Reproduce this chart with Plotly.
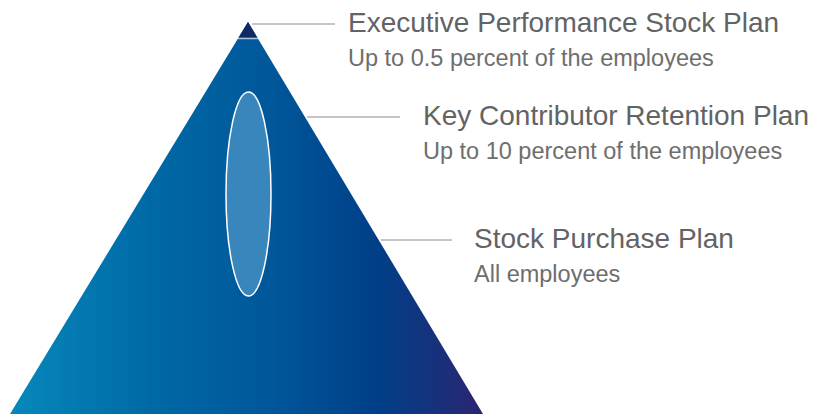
import plotly.graph_objects as go

# Planes de acciones, de la cúspide a la base
PLANES = ["Executive Performance Stock Plan", "Key Contributor Retention Plan", "Stock Purchase Plan"]
ALCANCE = ["Up to 0.5 percent of the employees", "Up to 10 percent of the employees", "All employees"]

# Geometría (unidades de eje = píxeles de la ventana)
W, H = 819, 414
OFF = 8  # margen por defecto del <body>
APEX = (248, 22)
BASE_L, BASE_R = 10, 483
CAP_Y = 37.5
LINEA_Y = [24, 117, 240]
LINEA_FIN = [335, 400, 452]
TEXTO_X = [347, 422, 473]
COLORES = [[0, "#0688bb"], [0.3, "#0069a5"], [0.55, "#00579a"], [0.78, "#003f88"], [1, "#2c2571"]]
GRIS_TITULO, GRIS_SUB = "#636363", "#6e6e6e"
FUENTE = "Liberation Sans, Arial"


def borde_der(y):
    return APEX[0] + (y - APEX[1]) * (BASE_R - APEX[0]) / (H - APEX[1])


def borde_izq(y):
    return APEX[0] - (y - APEX[1]) * (APEX[0] - BASE_L) / (H - APEX[1])


fig = go.Figure()
fig.add_trace(go.Scatter(
    x=[APEX[0], BASE_R, BASE_L, APEX[0]], y=[APEX[1], H, H, APEX[1]],
    mode="lines", fill="toself", line=dict(width=0),
    fillgradient=dict(type="horizontal", colorscale=COLORES),
    hoverinfo="skip", showlegend=False,
))
fig.add_trace(go.Scatter(
    x=[APEX[0], borde_der(CAP_Y), borde_izq(CAP_Y), APEX[0]], y=[APEX[1], CAP_Y, CAP_Y, APEX[1]],
    mode="lines", fill="toself", fillcolor="#0f2a62", line=dict(width=0),
    hoverinfo="skip", showlegend=False,
))

# separador de la cúspide
fig.add_shape(type="line", x0=borde_izq(CAP_Y + 1), x1=borde_der(CAP_Y + 1), y0=CAP_Y + 1, y1=CAP_Y + 1,
              line=dict(color="#a7c3de", width=1.5))
# óvalo interior
fig.add_shape(type="circle", x0=226, x1=271, y0=92, y1=296,
              fillcolor="#3886bc", line=dict(color="white", width=1.5))

for i, (plan, alc) in enumerate(zip(PLANES, ALCANCE)):
    y = LINEA_Y[i]
    x0 = borde_der(y) + 2 if i else APEX[0] + 4
    fig.add_shape(type="line", x0=x0, x1=LINEA_FIN[i], y0=y, y1=y, line=dict(color="#8c8c8c", width=1))
    fig.add_annotation(x=TEXTO_X[i] - 1, y=y - 1.5, text=plan, showarrow=False, xanchor="left", yanchor="middle",
                       font=dict(family=FUENTE, size=28, color=GRIS_TITULO))
    fig.add_annotation(x=TEXTO_X[i] - 1, y=y + 34, text=alc, showarrow=False, xanchor="left", yanchor="middle",
                       font=dict(family=FUENTE, size=23.5, color=GRIS_SUB))

fig.update_layout(
    width=W - OFF, height=H - OFF, margin=dict(l=0, r=0, t=0, b=0),
    plot_bgcolor="white", paper_bgcolor="white",
    xaxis=dict(range=[OFF, W], visible=False, fixedrange=True),
    yaxis=dict(range=[H, OFF], visible=False, fixedrange=True),
)
fig.write_html("out.html", config={"displayModeBar": False})
